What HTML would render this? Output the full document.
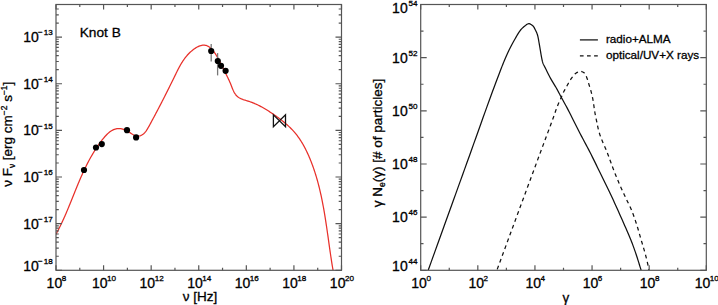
<!DOCTYPE html>
<html><head><meta charset="utf-8"><style>
html,body{margin:0;padding:0;background:#fff;}
body{width:718px;height:305px;overflow:hidden;font-family:"Liberation Sans",sans-serif;}
svg{display:block;} text{font-family:"Liberation Sans",sans-serif;}
</style></head><body>
<svg width="718" height="305" viewBox="0 0 718 305">
<defs><clipPath id="cl"><rect x="56.0" y="4.5" width="285.5" height="265.8"/></clipPath><clipPath id="cr"><rect x="420.7" y="4.5" width="285.6" height="265.8"/></clipPath></defs>
<path d="M55.83,234.53 L56.32,233.63 L56.80,232.73 L57.28,231.83 L57.76,230.93 L58.23,230.03 L58.69,229.12 L59.15,228.22 L59.61,227.32 L60.06,226.41 L60.50,225.50 L60.94,224.59 L61.38,223.68 L61.81,222.77 L62.24,221.86 L62.66,220.95 L63.08,220.04 L63.50,219.12 L63.91,218.21 L64.32,217.30 L64.73,216.38 L65.13,215.46 L65.53,214.55 L65.93,213.63 L66.32,212.71 L66.71,211.80 L67.10,210.88 L67.49,209.96 L67.88,209.04 L68.26,208.12 L68.64,207.20 L69.02,206.28 L69.40,205.36 L69.78,204.44 L70.15,203.52 L70.52,202.60 L70.90,201.68 L71.27,200.76 L71.64,199.84 L72.01,198.92 L72.38,198.00 L72.75,197.08 L73.12,196.16 L73.49,195.24 L73.86,194.32 L74.23,193.40 L74.60,192.48 L74.97,191.56 L75.34,190.64 L75.71,189.73 L76.08,188.81 L76.46,187.89 L76.83,186.98 L77.21,186.06 L77.58,185.15 L77.96,184.23 L78.34,183.32 L78.72,182.41 L79.11,181.50 L79.50,180.59 L79.88,179.68 L80.27,178.77 L80.67,177.86 L81.06,176.95 L81.46,176.04 L81.87,175.14 L82.27,174.24 L82.68,173.33 L83.09,172.43 L83.51,171.53 L83.92,170.63 L84.35,169.73 L84.77,168.84 L85.20,167.94 L85.64,167.05 L86.08,166.15 L86.52,165.26 L86.97,164.37 L87.42,163.48 L87.88,162.60 L88.34,161.71 L88.81,160.83 L89.28,159.95 L89.76,159.07 L90.24,158.19 L90.73,157.31 L91.23,156.44 L91.73,155.57 L92.24,154.70 L92.75,153.83 L93.27,152.96 L93.80,152.10 L94.33,151.23 L94.87,150.37 L95.42,149.52 L95.97,148.66 L96.53,147.81 L97.10,146.95 L97.67,146.10 L98.26,145.26 L98.85,144.41 L99.45,143.57 L100.06,142.73 L100.67,141.89 L101.29,141.06 L101.93,140.23 L102.57,139.40 L103.22,138.58 L103.88,137.78 L104.55,136.99 L105.23,136.21 L105.92,135.46 L106.62,134.73 L107.34,134.02 L108.06,133.35 L108.80,132.71 L109.56,132.10 L110.32,131.53 L111.10,131.00 L111.90,130.52 L112.71,130.08 L113.53,129.69 L114.37,129.35 L115.23,129.07 L116.10,128.85 L116.99,128.69 L117.89,128.60 L118.82,128.57 L119.76,128.61 L120.72,128.72 L121.69,128.90 L122.67,129.15 L123.65,129.45 L124.64,129.81 L125.62,130.21 L126.59,130.67 L127.54,131.17 L128.48,131.71 L129.40,132.27 L130.30,132.85 L131.19,133.42 L132.06,133.98 L132.94,134.50 L133.80,134.97 L134.66,135.38 L135.52,135.71 L136.39,135.95 L137.26,136.07 L138.13,136.09 L138.99,136.00 L139.84,135.82 L140.67,135.55 L141.48,135.19 L142.25,134.75 L142.99,134.24 L143.70,133.66 L144.37,133.02 L145.01,132.32 L145.62,131.56 L146.22,130.77 L146.79,129.94 L147.34,129.07 L147.87,128.19 L148.40,127.28 L148.91,126.36 L149.42,125.43 L149.93,124.51 L150.43,123.58 L150.93,122.66 L151.43,121.74 L151.92,120.82 L152.41,119.91 L152.90,119.00 L153.39,118.08 L153.88,117.18 L154.36,116.27 L154.84,115.36 L155.32,114.46 L155.80,113.56 L156.28,112.66 L156.75,111.76 L157.22,110.86 L157.69,109.97 L158.16,109.07 L158.63,108.18 L159.09,107.29 L159.56,106.40 L160.02,105.51 L160.48,104.62 L160.94,103.73 L161.39,102.85 L161.85,101.96 L162.30,101.08 L162.76,100.19 L163.21,99.31 L163.66,98.43 L164.11,97.54 L164.56,96.66 L165.00,95.78 L165.45,94.90 L165.89,94.02 L166.34,93.14 L166.78,92.26 L167.22,91.38 L167.66,90.50 L168.10,89.62 L168.54,88.74 L168.98,87.86 L169.42,86.98 L169.85,86.10 L170.29,85.22 L170.73,84.34 L171.16,83.46 L171.60,82.57 L172.03,81.69 L172.46,80.81 L172.90,79.92 L173.33,79.04 L173.76,78.15 L174.20,77.26 L174.63,76.38 L175.06,75.49 L175.50,74.60 L175.93,73.71 L176.36,72.82 L176.80,71.93 L177.24,71.04 L177.69,70.15 L178.14,69.27 L178.60,68.38 L179.06,67.51 L179.54,66.63 L180.02,65.76 L180.51,64.89 L181.01,64.03 L181.52,63.17 L182.05,62.32 L182.59,61.48 L183.14,60.65 L183.70,59.82 L184.29,59.00 L184.89,58.19 L185.50,57.39 L186.14,56.59 L186.79,55.81 L187.46,55.04 L188.16,54.28 L188.87,53.54 L189.61,52.80 L190.37,52.08 L191.16,51.37 L191.97,50.67 L192.81,50.00 L193.67,49.34 L194.54,48.71 L195.43,48.11 L196.34,47.55 L197.25,47.04 L198.16,46.57 L199.08,46.16 L200.00,45.81 L200.91,45.52 L201.82,45.31 L202.71,45.17 L203.60,45.11 L204.46,45.14 L205.31,45.26 L206.14,45.47 L206.94,45.75 L207.73,46.11 L208.51,46.55 L209.26,47.04 L210.00,47.60 L210.71,48.22 L211.41,48.89 L212.10,49.61 L212.76,50.36 L213.41,51.16 L214.04,51.99 L214.66,52.84 L215.26,53.72 L215.84,54.62 L216.40,55.53 L216.95,56.46 L217.49,57.38 L218.01,58.31 L218.51,59.23 L219.00,60.14 L219.48,61.04 L219.94,61.93 L220.39,62.81 L220.83,63.69 L221.27,64.56 L221.70,65.42 L222.12,66.28 L222.55,67.14 L222.97,68.00 L223.39,68.85 L223.81,69.71 L224.24,70.57 L224.67,71.43 L225.11,72.29 L225.54,73.16 L225.98,74.03 L226.43,74.90 L226.87,75.78 L227.31,76.67 L227.75,77.56 L228.18,78.46 L228.61,79.37 L229.04,80.29 L229.46,81.21 L229.87,82.15 L230.28,83.09 L230.67,84.05 L231.06,85.02 L231.44,86.00 L231.82,86.98 L232.20,87.96 L232.59,88.93 L232.99,89.88 L233.41,90.82 L233.85,91.73 L234.32,92.61 L234.82,93.45 L235.36,94.26 L235.94,95.01 L236.56,95.72 L237.24,96.36 L237.97,96.95 L238.75,97.48 L239.58,97.96 L240.43,98.41 L241.33,98.81 L242.25,99.19 L243.19,99.54 L244.15,99.87 L245.13,100.18 L246.11,100.49 L247.10,100.80 L248.08,101.10 L249.06,101.42 L250.03,101.75 L250.99,102.09 L251.94,102.44 L252.88,102.81 L253.81,103.18 L254.73,103.57 L255.64,103.97 L256.55,104.38 L257.45,104.80 L258.34,105.23 L259.22,105.67 L260.10,106.12 L260.97,106.57 L261.84,107.04 L262.70,107.52 L263.55,108.00 L264.40,108.50 L265.25,109.00 L266.09,109.51 L266.93,110.02 L267.76,110.54 L268.59,111.07 L269.42,111.61 L270.25,112.15 L271.07,112.70 L271.90,113.25 L272.72,113.81 L273.54,114.38 L274.36,114.94 L275.18,115.52 L276.00,116.10 L276.81,116.68 L277.63,117.27 L278.44,117.86 L279.25,118.46 L280.06,119.06 L280.86,119.67 L281.66,120.29 L282.45,120.91 L283.24,121.54 L284.02,122.18 L284.80,122.82 L285.57,123.47 L286.33,124.13 L287.09,124.79 L287.84,125.46 L288.58,126.14 L289.31,126.83 L290.04,127.52 L290.75,128.23 L291.46,128.94 L292.15,129.66 L292.84,130.39 L293.51,131.12 L294.17,131.87 L294.82,132.63 L295.46,133.39 L296.08,134.16 L296.70,134.94 L297.30,135.73 L297.89,136.53 L298.48,137.34 L299.05,138.15 L299.61,138.97 L300.16,139.80 L300.70,140.63 L301.24,141.47 L301.76,142.32 L302.27,143.17 L302.78,144.03 L303.27,144.89 L303.76,145.76 L304.24,146.64 L304.71,147.52 L305.17,148.40 L305.62,149.29 L306.07,150.18 L306.51,151.08 L306.94,151.98 L307.37,152.88 L307.79,153.79 L308.20,154.70 L308.60,155.61 L309.00,156.53 L309.39,157.44 L309.78,158.36 L310.16,159.29 L310.54,160.21 L310.91,161.13 L311.27,162.06 L311.63,162.99 L311.99,163.92 L312.33,164.85 L312.68,165.79 L313.01,166.72 L313.35,167.66 L313.68,168.60 L314.00,169.54 L314.32,170.48 L314.63,171.43 L314.94,172.37 L315.24,173.32 L315.54,174.27 L315.83,175.22 L316.12,176.17 L316.41,177.12 L316.69,178.08 L316.97,179.03 L317.24,179.99 L317.51,180.95 L317.77,181.91 L318.03,182.87 L318.29,183.83 L318.54,184.80 L318.79,185.76 L319.03,186.73 L319.27,187.69 L319.51,188.66 L319.74,189.63 L319.97,190.60 L320.20,191.57 L320.42,192.55 L320.64,193.52 L320.86,194.49 L321.07,195.47 L321.28,196.44 L321.49,197.42 L321.69,198.40 L321.90,199.38 L322.09,200.36 L322.29,201.34 L322.48,202.32 L322.67,203.30 L322.86,204.28 L323.05,205.27 L323.23,206.25 L323.41,207.24 L323.59,208.22 L323.76,209.21 L323.94,210.19 L324.11,211.18 L324.28,212.17 L324.45,213.16 L324.61,214.14 L324.78,215.13 L324.94,216.12 L325.10,217.11 L325.26,218.10 L325.41,219.09 L325.57,220.08 L325.72,221.07 L325.88,222.06 L326.03,223.06 L326.18,224.05 L326.33,225.04 L326.48,226.03 L326.62,227.02 L326.77,228.01 L326.91,229.01 L327.06,230.00 L327.20,230.99 L327.34,231.98 L327.49,232.98 L327.63,233.97 L327.77,234.96 L327.91,235.95 L328.05,236.94 L328.19,237.94 L328.33,238.93 L328.47,239.92 L328.61,240.91 L328.75,241.90 L328.88,242.89 L329.02,243.88 L329.16,244.87 L329.30,245.86 L329.44,246.85 L329.58,247.84 L329.72,248.83 L329.87,249.81 L330.01,250.80 L330.15,251.79 L330.29,252.78 L330.44,253.76 L330.58,254.75 L330.73,255.73 L330.87,256.72 L331.02,257.70 L331.17,258.68 L331.32,259.66 L331.47,260.64 L331.62,261.62 L331.78,262.60 L331.93,263.58 L332.09,264.56 L332.25,265.54 L332.41,266.51 L332.57,267.49 L332.73,268.46 L332.90,269.44 L333.06,270.41" fill="none" stroke="#e8302a" stroke-width="1.25" clip-path="url(#cl)"/>
<path d="M428.10,270.50 L431.30,261.60 L434.55,252.59 L437.82,243.53 L441.07,234.50 L444.30,225.55 L447.46,216.78 L450.53,208.23 L453.50,200.00 L455.90,193.34 L458.22,186.90 L460.48,180.62 L462.70,174.47 L464.89,168.37 L467.08,162.30 L469.28,156.19 L471.50,150.00 L473.77,143.66 L476.07,137.20 L478.39,130.69 L480.70,124.20 L482.98,117.81 L485.20,111.60 L487.35,105.64 L489.40,100.00 L490.95,95.77 L492.49,91.58 L494.01,87.48 L495.49,83.51 L496.90,79.73 L498.24,76.18 L499.48,72.92 L500.60,70.00 L501.18,68.49 L501.72,67.12 L502.21,65.85 L502.69,64.65 L503.15,63.50 L503.61,62.37 L504.09,61.21 L504.60,60.00 L505.14,58.74 L505.68,57.49 L506.22,56.24 L506.78,54.98 L507.34,53.73 L507.91,52.49 L508.50,51.24 L509.10,50.00 L509.72,48.74 L510.36,47.48 L511.00,46.23 L511.66,44.98 L512.32,43.73 L513.00,42.48 L513.70,41.24 L514.40,40.00 L515.14,38.70 L515.90,37.36 L516.68,36.00 L517.48,34.66 L518.27,33.35 L519.06,32.12 L519.84,31.00 L520.60,30.00 L521.11,29.40 L521.60,28.85 L522.10,28.34 L522.59,27.87 L523.08,27.43 L523.58,27.01 L524.08,26.60 L524.60,26.20 L525.09,25.81 L525.60,25.39 L526.10,24.98 L526.62,24.59 L527.13,24.24 L527.65,23.97 L528.18,23.78 L528.70,23.70 L529.24,23.74 L529.81,23.89 L530.38,24.13 L530.96,24.43 L531.52,24.79 L532.05,25.18 L532.55,25.59 L533.00,26.00 L533.39,26.41 L533.74,26.86 L534.05,27.35 L534.34,27.85 L534.61,28.38 L534.87,28.92 L535.13,29.46 L535.40,30.00 L535.69,30.58 L535.98,31.17 L536.26,31.76 L536.53,32.37 L536.79,32.99 L537.04,33.64 L537.28,34.30 L537.50,35.00 L537.75,35.91 L537.98,36.87 L538.19,37.87 L538.39,38.90 L538.57,39.95 L538.75,40.99 L538.92,42.01 L539.10,43.00 L539.26,43.89 L539.42,44.78 L539.57,45.65 L539.71,46.51 L539.86,47.38 L540.00,48.24 L540.15,49.12 L540.30,50.00 L540.46,50.93 L540.61,51.88 L540.77,52.84 L540.93,53.80 L541.09,54.75 L541.25,55.69 L541.42,56.61 L541.60,57.50 L541.76,58.27 L541.91,59.03 L542.07,59.78 L542.23,60.52 L542.40,61.25 L542.58,61.95 L542.78,62.64 L543.00,63.30 L543.21,63.84 L543.42,64.34 L543.65,64.82 L543.89,65.28 L544.14,65.76 L544.41,66.26 L544.69,66.80 L545.00,67.40 L545.57,68.54 L546.21,69.83 L546.90,71.24 L547.63,72.71 L548.40,74.22 L549.17,75.73 L549.94,77.20 L550.70,78.60 L551.42,79.88 L552.16,81.14 L552.92,82.39 L553.67,83.62 L554.43,84.85 L555.17,86.07 L555.90,87.28 L556.60,88.50 L557.23,89.63 L557.83,90.74 L558.42,91.84 L558.99,92.94 L559.57,94.04 L560.16,95.17 L560.77,96.31 L561.40,97.50 L562.16,98.90 L562.94,100.32 L563.73,101.75 L564.55,103.22 L565.38,104.72 L566.23,106.28 L567.10,107.91 L568.00,109.60 L569.23,111.98 L570.52,114.52 L571.86,117.18 L573.23,119.92 L574.62,122.71 L576.02,125.51 L577.42,128.29 L578.80,131.00 L580.19,133.67 L581.59,136.35 L583.01,139.02 L584.43,141.69 L585.85,144.35 L587.25,147.01 L588.64,149.66 L590.00,152.30 L591.29,154.84 L592.55,157.36 L593.80,159.87 L595.04,162.37 L596.27,164.88 L597.50,167.40 L598.74,169.93 L600.00,172.50 L601.33,175.20 L602.67,177.92 L604.02,180.66 L605.37,183.41 L606.72,186.18 L608.06,188.95 L609.39,191.72 L610.70,194.50 L612.00,197.29 L613.30,200.10 L614.58,202.91 L615.86,205.72 L617.13,208.54 L618.39,211.36 L619.65,214.18 L620.90,217.00 L622.17,219.84 L623.46,222.73 L624.75,225.64 L626.04,228.54 L627.30,231.40 L628.50,234.20 L629.64,236.91 L630.70,239.50 L631.47,241.45 L632.19,243.31 L632.86,245.11 L633.51,246.87 L634.14,248.62 L634.75,250.37 L635.37,252.16 L636.00,254.00 L636.67,256.01 L637.33,258.04 L637.98,260.10 L638.63,262.18 L639.27,264.26 L639.91,266.35 L640.55,268.43 L641.20,270.50" fill="none" stroke="#111" stroke-width="1.25" clip-path="url(#cr)"/>
<path d="M496.80,270.50 L500.05,261.67 L503.35,252.73 L506.66,243.75 L509.96,234.79 L513.23,225.91 L516.44,217.20 L519.57,208.70 L522.60,200.50 L525.11,193.71 L527.58,187.02 L530.02,180.44 L532.41,173.99 L534.74,167.71 L537.00,161.60 L539.19,155.69 L541.30,150.00 L542.93,145.61 L544.55,141.26 L546.14,137.00 L547.69,132.87 L549.16,128.91 L550.55,125.16 L551.84,121.68 L553.00,118.50 L553.64,116.70 L554.23,115.03 L554.77,113.46 L555.28,111.97 L555.77,110.54 L556.26,109.15 L556.77,107.78 L557.30,106.40 L557.79,105.20 L558.30,104.00 L558.81,102.83 L559.32,101.68 L559.83,100.57 L560.31,99.49 L560.77,98.47 L561.20,97.50 L561.48,96.85 L561.73,96.24 L561.96,95.67 L562.18,95.12 L562.41,94.57 L562.64,94.01 L562.91,93.42 L563.20,92.80 L563.63,91.94 L564.10,91.03 L564.61,90.09 L565.14,89.13 L565.68,88.15 L566.23,87.19 L566.77,86.23 L567.30,85.30 L567.80,84.41 L568.29,83.52 L568.79,82.63 L569.28,81.75 L569.78,80.88 L570.30,80.03 L570.84,79.20 L571.40,78.40 L571.95,77.65 L572.52,76.88 L573.10,76.13 L573.69,75.39 L574.30,74.70 L574.92,74.06 L575.56,73.49 L576.20,73.00 L576.74,72.66 L577.30,72.34 L577.87,72.06 L578.45,71.82 L579.02,71.62 L579.60,71.49 L580.16,71.41 L580.70,71.40 L581.20,71.46 L581.71,71.57 L582.22,71.74 L582.72,71.95 L583.20,72.21 L583.67,72.51 L584.10,72.84 L584.50,73.20 L584.91,73.67 L585.28,74.20 L585.61,74.80 L585.91,75.44 L586.19,76.11 L586.46,76.80 L586.73,77.50 L587.00,78.20 L587.31,79.02 L587.60,79.88 L587.88,80.76 L588.15,81.66 L588.41,82.58 L588.67,83.49 L588.93,84.40 L589.20,85.30 L589.47,86.17 L589.74,87.04 L590.01,87.91 L590.28,88.78 L590.55,89.65 L590.81,90.52 L591.06,91.41 L591.30,92.30 L591.54,93.23 L591.76,94.15 L591.98,95.08 L592.19,96.01 L592.40,96.96 L592.60,97.94 L592.80,98.95 L593.00,100.00 L593.24,101.38 L593.46,102.84 L593.68,104.35 L593.90,105.90 L594.11,107.46 L594.33,109.02 L594.56,110.54 L594.80,112.00 L595.03,113.30 L595.28,114.59 L595.53,115.86 L595.78,117.12 L596.04,118.36 L596.29,119.59 L596.55,120.80 L596.80,122.00 L597.02,123.08 L597.24,124.16 L597.46,125.23 L597.68,126.28 L597.90,127.32 L598.12,128.33 L598.36,129.33 L598.60,130.30 L598.82,131.13 L599.04,131.93 L599.27,132.72 L599.51,133.49 L599.74,134.25 L599.99,135.01 L600.24,135.75 L600.50,136.50 L600.75,137.20 L601.01,137.88 L601.27,138.55 L601.54,139.21 L601.81,139.88 L602.10,140.57 L602.39,141.27 L602.70,142.00 L603.10,142.93 L603.52,143.88 L603.96,144.87 L604.41,145.87 L604.87,146.90 L605.32,147.93 L605.77,148.96 L606.20,150.00 L606.64,151.09 L607.07,152.20 L607.50,153.32 L607.92,154.45 L608.34,155.58 L608.76,156.72 L609.18,157.86 L609.60,159.00 L610.03,160.17 L610.46,161.34 L610.88,162.51 L611.31,163.68 L611.74,164.86 L612.18,166.06 L612.63,167.27 L613.10,168.50 L613.64,169.89 L614.19,171.32 L614.76,172.76 L615.34,174.22 L615.93,175.69 L616.52,177.14 L617.11,178.58 L617.70,180.00 L618.27,181.34 L618.83,182.67 L619.40,183.99 L619.98,185.30 L620.55,186.61 L621.13,187.91 L621.71,189.21 L622.30,190.50 L622.88,191.77 L623.46,193.03 L624.05,194.28 L624.64,195.54 L625.24,196.78 L625.83,198.03 L626.42,199.26 L627.00,200.50 L627.57,201.69 L628.14,202.84 L628.71,203.99 L629.27,205.14 L629.84,206.30 L630.40,207.48 L630.95,208.71 L631.50,210.00 L632.15,211.60 L632.79,213.27 L633.43,214.99 L634.06,216.75 L634.68,218.54 L635.30,220.36 L635.90,222.18 L636.50,224.00 L637.12,225.95 L637.73,227.95 L638.33,229.98 L638.92,232.03 L639.50,234.07 L640.08,236.09 L640.64,238.07 L641.20,240.00 L641.70,241.71 L642.21,243.40 L642.70,245.08 L643.20,246.73 L643.68,248.36 L644.14,249.95 L644.58,251.50 L645.00,253.00 L645.33,254.20 L645.64,255.37 L645.94,256.50 L646.23,257.61 L646.51,258.71 L646.78,259.80 L647.04,260.90 L647.30,262.00 L647.54,263.07 L647.76,264.14 L647.98,265.20 L648.18,266.26 L648.39,267.32 L648.59,268.38 L648.79,269.44 L649.00,270.50" fill="none" stroke="#111" stroke-width="1.25" stroke-dasharray="3.8 3.46" stroke-dashoffset="6.06" clip-path="url(#cr)"/>
<line x1="211.2" y1="43.9" x2="211.2" y2="61.6" stroke="#777" stroke-width="1.3"/>
<line x1="217.6" y1="53.1" x2="217.6" y2="75.4" stroke="#777" stroke-width="1.3"/>
<circle cx="84.0" cy="170.0" r="3.1" fill="#000"/>
<circle cx="96.0" cy="147.5" r="3.1" fill="#000"/>
<circle cx="101.8" cy="144.1" r="3.1" fill="#000"/>
<circle cx="127.0" cy="130.2" r="3.1" fill="#000"/>
<circle cx="136.1" cy="137.4" r="3.1" fill="#000"/>
<circle cx="211.2" cy="51.0" r="3.1" fill="#000"/>
<circle cx="217.8" cy="61.0" r="3.1" fill="#000"/>
<circle cx="221.0" cy="65.8" r="3.1" fill="#000"/>
<circle cx="225.6" cy="70.8" r="3.1" fill="#000"/>
<path d="M273.4,114.9L285.5,126.6L285.5,114.9L273.4,126.6Z" fill="none" stroke="#111" stroke-width="1.3" stroke-linejoin="miter"/>
<rect x="56.0" y="4.5" width="285.5" height="265.8" fill="none" stroke="#555" stroke-width="1.20"/>
<rect x="420.7" y="4.5" width="285.6" height="265.8" fill="none" stroke="#555" stroke-width="1.20"/>
<path d="M56.00,270.30L56.00,265.30 M56.00,4.50L56.00,9.50 M79.79,270.30L79.79,267.70 M79.79,4.50L79.79,7.10 M103.58,270.30L103.58,265.30 M103.58,4.50L103.58,9.50 M127.38,270.30L127.38,267.70 M127.38,4.50L127.38,7.10 M151.17,270.30L151.17,265.30 M151.17,4.50L151.17,9.50 M174.96,270.30L174.96,267.70 M174.96,4.50L174.96,7.10 M198.75,270.30L198.75,265.30 M198.75,4.50L198.75,9.50 M222.54,270.30L222.54,267.70 M222.54,4.50L222.54,7.10 M246.33,270.30L246.33,265.30 M246.33,4.50L246.33,9.50 M270.12,270.30L270.12,267.70 M270.12,4.50L270.12,7.10 M293.92,270.30L293.92,265.30 M293.92,4.50L293.92,9.50 M317.71,270.30L317.71,267.70 M317.71,4.50L317.71,7.10 M341.50,270.30L341.50,265.30 M341.50,4.50L341.50,9.50 M56.00,270.30L62.00,270.30 M341.50,270.30L335.50,270.30 M56.00,256.26L58.80,256.26 M341.50,256.26L338.70,256.26 M56.00,248.05L58.80,248.05 M341.50,248.05L338.70,248.05 M56.00,242.22L58.80,242.22 M341.50,242.22L338.70,242.22 M56.00,237.70L58.80,237.70 M341.50,237.70L338.70,237.70 M56.00,234.01L58.80,234.01 M341.50,234.01L338.70,234.01 M56.00,230.88L58.80,230.88 M341.50,230.88L338.70,230.88 M56.00,228.18L58.80,228.18 M341.50,228.18L338.70,228.18 M56.00,225.79L58.80,225.79 M341.50,225.79L338.70,225.79 M56.00,223.66L62.00,223.66 M341.50,223.66L335.50,223.66 M56.00,209.62L58.80,209.62 M341.50,209.62L338.70,209.62 M56.00,201.41L58.80,201.41 M341.50,201.41L338.70,201.41 M56.00,195.58L58.80,195.58 M341.50,195.58L338.70,195.58 M56.00,191.06L58.80,191.06 M341.50,191.06L338.70,191.06 M56.00,187.37L58.80,187.37 M341.50,187.37L338.70,187.37 M56.00,184.24L58.80,184.24 M341.50,184.24L338.70,184.24 M56.00,181.54L58.80,181.54 M341.50,181.54L338.70,181.54 M56.00,179.15L58.80,179.15 M341.50,179.15L338.70,179.15 M56.00,177.02L62.00,177.02 M341.50,177.02L335.50,177.02 M56.00,162.98L58.80,162.98 M341.50,162.98L338.70,162.98 M56.00,154.77L58.80,154.77 M341.50,154.77L338.70,154.77 M56.00,148.94L58.80,148.94 M341.50,148.94L338.70,148.94 M56.00,144.42L58.80,144.42 M341.50,144.42L338.70,144.42 M56.00,140.73L58.80,140.73 M341.50,140.73L338.70,140.73 M56.00,137.60L58.80,137.60 M341.50,137.60L338.70,137.60 M56.00,134.90L58.80,134.90 M341.50,134.90L338.70,134.90 M56.00,132.51L58.80,132.51 M341.50,132.51L338.70,132.51 M56.00,130.38L62.00,130.38 M341.50,130.38L335.50,130.38 M56.00,116.34L58.80,116.34 M341.50,116.34L338.70,116.34 M56.00,108.13L58.80,108.13 M341.50,108.13L338.70,108.13 M56.00,102.30L58.80,102.30 M341.50,102.30L338.70,102.30 M56.00,97.78L58.80,97.78 M341.50,97.78L338.70,97.78 M56.00,94.09L58.80,94.09 M341.50,94.09L338.70,94.09 M56.00,90.96L58.80,90.96 M341.50,90.96L338.70,90.96 M56.00,88.26L58.80,88.26 M341.50,88.26L338.70,88.26 M56.00,85.87L58.80,85.87 M341.50,85.87L338.70,85.87 M56.00,83.74L62.00,83.74 M341.50,83.74L335.50,83.74 M56.00,69.70L58.80,69.70 M341.50,69.70L338.70,69.70 M56.00,61.49L58.80,61.49 M341.50,61.49L338.70,61.49 M56.00,55.66L58.80,55.66 M341.50,55.66L338.70,55.66 M56.00,51.14L58.80,51.14 M341.50,51.14L338.70,51.14 M56.00,47.45L58.80,47.45 M341.50,47.45L338.70,47.45 M56.00,44.32L58.80,44.32 M341.50,44.32L338.70,44.32 M56.00,41.62L58.80,41.62 M341.50,41.62L338.70,41.62 M56.00,39.23L58.80,39.23 M341.50,39.23L338.70,39.23 M56.00,37.10L62.00,37.10 M341.50,37.10L335.50,37.10 M56.00,23.06L58.80,23.06 M341.50,23.06L338.70,23.06 M56.00,14.85L58.80,14.85 M341.50,14.85L338.70,14.85 M56.00,9.02L58.80,9.02 M341.50,9.02L338.70,9.02 M56.00,4.50L58.80,4.50 M341.50,4.50L338.70,4.50 M420.70,270.30L420.70,265.30 M420.70,4.50L420.70,9.50 M449.26,270.30L449.26,267.70 M449.26,4.50L449.26,7.10 M477.82,270.30L477.82,265.30 M477.82,4.50L477.82,9.50 M506.38,270.30L506.38,267.70 M506.38,4.50L506.38,7.10 M534.94,270.30L534.94,265.30 M534.94,4.50L534.94,9.50 M563.50,270.30L563.50,267.70 M563.50,4.50L563.50,7.10 M592.06,270.30L592.06,265.30 M592.06,4.50L592.06,9.50 M620.62,270.30L620.62,267.70 M620.62,4.50L620.62,7.10 M649.18,270.30L649.18,265.30 M649.18,4.50L649.18,9.50 M677.74,270.30L677.74,267.70 M677.74,4.50L677.74,7.10 M706.30,270.30L706.30,265.30 M706.30,4.50L706.30,9.50 M420.70,270.30L426.70,270.30 M706.30,270.30L700.30,270.30 M420.70,243.72L423.50,243.72 M706.30,243.72L703.50,243.72 M420.70,217.14L426.70,217.14 M706.30,217.14L700.30,217.14 M420.70,190.56L423.50,190.56 M706.30,190.56L703.50,190.56 M420.70,163.98L426.70,163.98 M706.30,163.98L700.30,163.98 M420.70,137.40L423.50,137.40 M706.30,137.40L703.50,137.40 M420.70,110.82L426.70,110.82 M706.30,110.82L700.30,110.82 M420.70,84.24L423.50,84.24 M706.30,84.24L703.50,84.24 M420.70,57.66L426.70,57.66 M706.30,57.66L700.30,57.66 M420.70,31.08L423.50,31.08 M706.30,31.08L703.50,31.08 M420.70,4.50L426.70,4.50 M706.30,4.50L700.30,4.50" stroke="#555" stroke-width="1.20" fill="none"/>
<g style="font-family:'Liberation Sans',sans-serif" fill="#000" stroke="#000" stroke-width="0.3">
<text x="56.4" y="287.8" text-anchor="middle" font-size="14.0">10<tspan font-size="8.1" dx="-0.5" dy="-6.8">8</tspan></text>
<text x="104.0" y="287.8" text-anchor="middle" font-size="14.0">10<tspan font-size="8.1" dx="-0.5" dy="-6.8">10</tspan></text>
<text x="151.6" y="287.8" text-anchor="middle" font-size="14.0">10<tspan font-size="8.1" dx="-0.5" dy="-6.8">12</tspan></text>
<text x="199.2" y="287.8" text-anchor="middle" font-size="14.0">10<tspan font-size="8.1" dx="-0.5" dy="-6.8">14</tspan></text>
<text x="246.7" y="287.8" text-anchor="middle" font-size="14.0">10<tspan font-size="8.1" dx="-0.5" dy="-6.8">16</tspan></text>
<text x="294.3" y="287.8" text-anchor="middle" font-size="14.0">10<tspan font-size="8.1" dx="-0.5" dy="-6.8">18</tspan></text>
<text x="341.9" y="287.8" text-anchor="middle" font-size="14.0">10<tspan font-size="8.1" dx="-0.5" dy="-6.8">20</tspan></text>
<text x="421.1" y="287.8" text-anchor="middle" font-size="14.0">10<tspan font-size="8.1" dx="-0.5" dy="-6.8">0</tspan></text>
<text x="478.2" y="287.8" text-anchor="middle" font-size="14.0">10<tspan font-size="8.1" dx="-0.5" dy="-6.8">2</tspan></text>
<text x="535.3" y="287.8" text-anchor="middle" font-size="14.0">10<tspan font-size="8.1" dx="-0.5" dy="-6.8">4</tspan></text>
<text x="592.5" y="287.8" text-anchor="middle" font-size="14.0">10<tspan font-size="8.1" dx="-0.5" dy="-6.8">6</tspan></text>
<text x="649.6" y="287.8" text-anchor="middle" font-size="14.0">10<tspan font-size="8.1" dx="-0.5" dy="-6.8">8</tspan></text>
<text x="706.7" y="287.8" text-anchor="middle" font-size="14.0">10<tspan font-size="8.1" dx="-0.5" dy="-6.8">10</tspan></text>
<text x="38.8" y="270.6" text-anchor="end" font-size="14.0">10</text>
<text x="52.7" y="263.8" text-anchor="end" font-size="8.1">−<tspan dx="0.9">18</tspan></text>
<text x="38.8" y="228.6" text-anchor="end" font-size="14.0">10</text>
<text x="52.7" y="221.8" text-anchor="end" font-size="8.1">−<tspan dx="0.9">17</tspan></text>
<text x="38.8" y="181.9" text-anchor="end" font-size="14.0">10</text>
<text x="52.7" y="175.1" text-anchor="end" font-size="8.1">−<tspan dx="0.9">16</tspan></text>
<text x="38.8" y="135.3" text-anchor="end" font-size="14.0">10</text>
<text x="52.7" y="128.5" text-anchor="end" font-size="8.1">−<tspan dx="0.9">15</tspan></text>
<text x="38.8" y="88.6" text-anchor="end" font-size="14.0">10</text>
<text x="52.7" y="81.8" text-anchor="end" font-size="8.1">−<tspan dx="0.9">14</tspan></text>
<text x="38.8" y="42.0" text-anchor="end" font-size="14.0">10</text>
<text x="52.7" y="35.2" text-anchor="end" font-size="8.1">−<tspan dx="0.9">13</tspan></text>
<text x="407.7" y="270.6" text-anchor="end" font-size="14.0">10</text>
<text x="417.5" y="263.8" text-anchor="end" font-size="8.1">44</text>
<text x="407.7" y="222.0" text-anchor="end" font-size="14.0">10</text>
<text x="417.5" y="215.2" text-anchor="end" font-size="8.1">46</text>
<text x="407.7" y="168.9" text-anchor="end" font-size="14.0">10</text>
<text x="417.5" y="162.1" text-anchor="end" font-size="8.1">48</text>
<text x="407.7" y="115.7" text-anchor="end" font-size="14.0">10</text>
<text x="417.5" y="108.9" text-anchor="end" font-size="8.1">50</text>
<text x="407.7" y="62.6" text-anchor="end" font-size="14.0">10</text>
<text x="417.5" y="55.8" text-anchor="end" font-size="8.1">52</text>
<text x="407.7" y="12.5" text-anchor="end" font-size="14.0">10</text>
<text x="417.5" y="5.7" text-anchor="end" font-size="8.1">54</text>
<text x="200" y="301.4" text-anchor="middle" font-size="13.5">ν [Hz]</text>
<text x="565.8" y="302.2" text-anchor="middle" font-size="13.5">γ</text>
<text transform="translate(12.3,134.3) rotate(-90)" text-anchor="middle" font-size="13.5">ν F<tspan font-size="8.4" dy="2.5">ν</tspan><tspan dy="-2.5"> [erg cm</tspan><tspan font-size="8.4" dy="-5.6">−2</tspan><tspan dy="5.6"> s</tspan><tspan font-size="8.4" dy="-5.6">−1</tspan><tspan dy="5.6">]</tspan></text>
<text transform="translate(382.4,143.0) rotate(-90)" text-anchor="middle" font-size="13.5">γ N<tspan font-size="8.4" dy="2.5">e</tspan><tspan dy="-2.5">(γ) [# of particles]</tspan></text>
<text x="79.7" y="36.7" font-size="13.7">Knot B</text>
<line x1="579.9" y1="39.9" x2="597.9" y2="39.9" stroke="#111" stroke-width="1.25"/>
<line x1="579.9" y1="55.9" x2="597.9" y2="55.9" stroke="#111" stroke-width="1.25" stroke-dasharray="3.7 3.4"/>
<text x="605.9" y="43.0" font-size="11.7">radio+ALMA</text>
<text x="605.9" y="59.0" font-size="11.7">optical/UV+X rays</text>
</g>
</svg>
</body></html>
